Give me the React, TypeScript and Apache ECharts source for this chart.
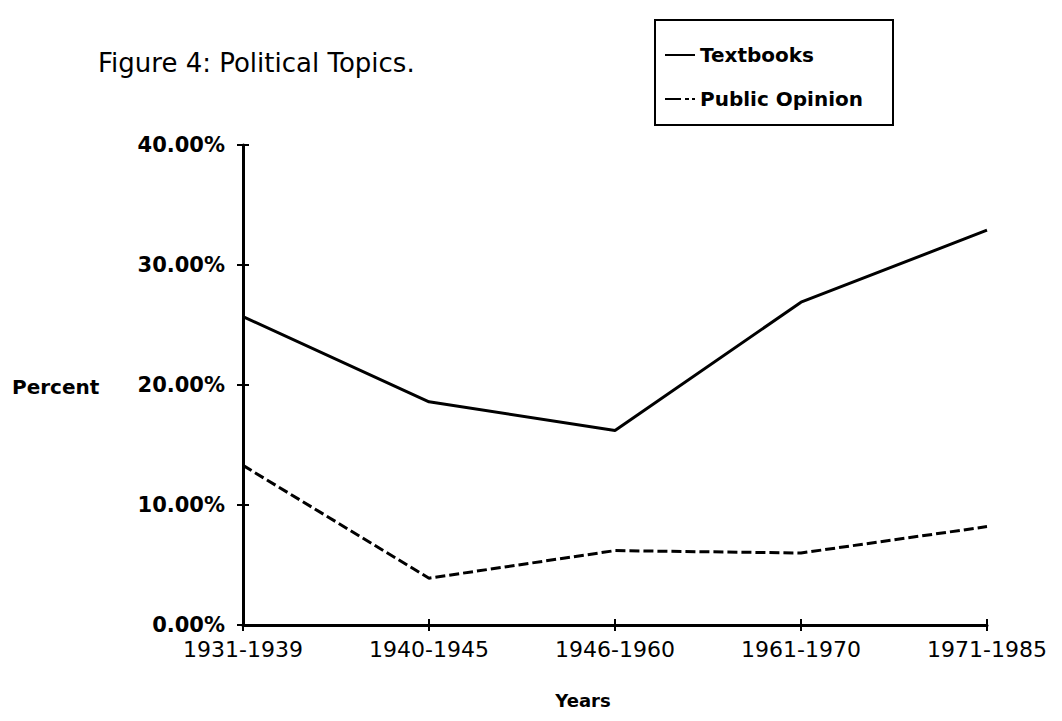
import React, { useEffect, useRef } from "react";
import * as echarts from "echarts";

const categories = ["1931-1939", "1940-1945", "1946-1960", "1961-1970", "1971-1985"];
const textbooks = [25.7, 18.6, 16.2, 26.9, 32.9];
const publicOpinion = [13.3, 3.9, 6.2, 6.0, 8.2];
const yTicks = [0, 10, 20, 30, 40];

const FONT = "DejaVu Sans";

export default function App() {
  const ref = useRef<HTMLDivElement>(null);
  useEffect(() => {
    document.body.style.margin = "0";
    if (!ref.current) return;
    const chart = echarts.init(ref.current, undefined, { renderer: "svg" });
    const grid = { left: 243, right: 75, top: 145, bottom: 96 };
    chart.setOption({
      animation: false,
      backgroundColor: "#ffffff",
      grid,
      legend: {
        orient: "vertical",
        left: 660,
        top: 40,
        itemGap: 24,
        itemWidth: 30,
        itemHeight: 10,
        textStyle: { fontFamily: FONT, fontSize: 20, fontWeight: "bold", color: "#000" },
        data: [
          { name: "Textbooks", icon: "path://M0,4L30,4L30,6L0,6Z" },
          { name: "Public Opinion", icon: "path://M0,4L16,4L16,6L0,6ZM20,4L24,4L24,6L20,6ZM27,4L30,4L30,6L27,6Z" },
        ],
        selectedMode: false,
      },
      graphic: [
        {
          type: "rect",
          shape: { x: 655, y: 20, width: 238, height: 105 },
          style: { fill: "none", stroke: "#000", lineWidth: 2 },
        },
        {
          type: "text",
          left: 98,
          top: 50,
          style: { text: "Figure 4: Political Topics.", fontFamily: FONT, fontSize: 26, fill: "#000" },
        },
        {
          type: "text",
          x: 12,
          y: 387,
          style: { text: "Percent", fontFamily: FONT, fontSize: 20, fontWeight: "bold", fill: "#000", verticalAlign: "middle", textAlign: "left" },
        },
        {
          type: "text",
          x: 583,
          y: 700,
          style: { text: "Years", fontFamily: FONT, fontSize: 18, fontWeight: "bold", fill: "#000", verticalAlign: "middle", textAlign: "center" },
        },
      ],
      xAxis: [
        {
          type: "category",
          data: categories,
          boundaryGap: false,
          axisLine: { show: true, lineStyle: { color: "#000", width: 3 } },
          axisTick: { show: true, length: 6, lineStyle: { color: "#000", width: 2 } },
          axisLabel: { color: "#000", fontFamily: FONT, fontSize: 22, margin: 13 },
          splitLine: { show: false },
        },
        {
          type: "category",
          data: categories,
          boundaryGap: false,
          position: "bottom",
          axisLine: { show: false },
          axisTick: { show: true, inside: true, length: 6, lineStyle: { color: "#000", width: 2 } },
          axisLabel: { show: false },
          splitLine: { show: false },
        },
      ],
      yAxis: [
        {
          type: "value",
          min: yTicks[0],
          max: yTicks[yTicks.length - 1],
          interval: 10,
          axisLine: { show: true, lineStyle: { color: "#000", width: 3 } },
          axisTick: { show: true, length: 6, lineStyle: { color: "#000", width: 2 } },
          axisLabel: {
            color: "#000",
            fontFamily: FONT,
            fontSize: 21,
            fontWeight: "bold",
            margin: 18,
            formatter: (v: number) => v.toFixed(2) + "%",
          },
          splitLine: { show: false },
        },
        {
          type: "value",
          min: yTicks[0],
          max: yTicks[yTicks.length - 1],
          interval: 10,
          position: "left",
          axisLine: { show: false },
          axisTick: { show: true, inside: true, length: 6, lineStyle: { color: "#000", width: 2 } },
          axisLabel: { show: false },
          splitLine: { show: false },
        },
      ],
      series: [
        {
          name: "Textbooks",
          type: "line",
          data: textbooks,
          symbol: "none",
          color: "#000",
          lineStyle: { color: "#000", width: 3 },
        },
        {
          name: "Public Opinion",
          type: "line",
          data: publicOpinion,
          symbol: "none",
          color: "#000",
          lineStyle: { color: "#000", width: 3, type: [10, 4] },
        },
      ],
    });
    return () => chart.dispose();
  }, []);
  return <div ref={ref} style={{ width: 1062, height: 721 }} />;
}
